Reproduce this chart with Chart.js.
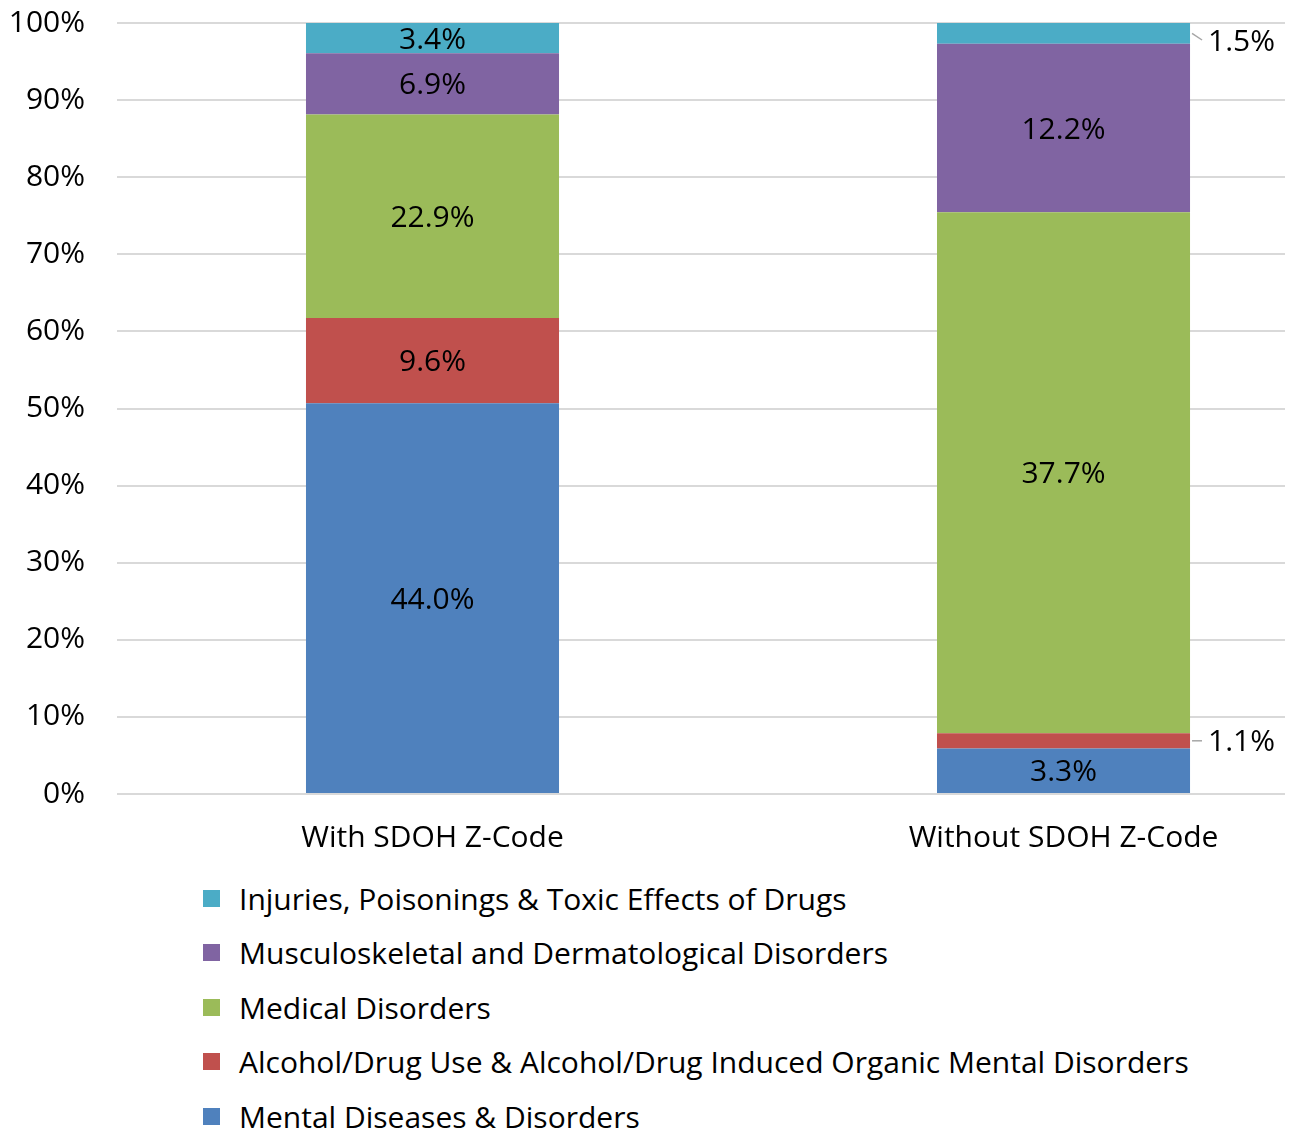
<!DOCTYPE html>
<html>
<head>
<meta charset="utf-8">
<script src="https://cdn.jsdelivr.net/npm/chart.js@4"></script>
<style>
    body { margin: 0; background: #fff; font-family: 'Open Sans', sans-serif; }
    .wrap { position: relative; width: 1293px; height: 1134px; overflow: hidden; }
    .chart-box { position: absolute; left: 0; top: -27px; width: 1293px; height: 887px; }
    .legend { position: absolute; left: 203px; top: 871px; margin: 0; padding: 0; list-style: none; }
    .legend li { height: 54.5px; display: flex; align-items: center; font-size: 30px; color: #000; white-space: nowrap; }
    .legend .swatch { width: 17px; height: 17px; margin-right: 19px; }
</style>
</head>
<body>
<div class="wrap">
    <div class="chart-box"><canvas id="chart"></canvas></div>
    <ul class="legend" id="legend"></ul>
</div>
<script>
// categories and series (raw shares, each bar is scaled to 100%)
const categories = ['With SDOH Z-Code', 'Without SDOH Z-Code'];
const seriesNames = [
    'Mental Diseases & Disorders',
    'Alcohol/Drug Use & Alcohol/Drug Induced Organic Mental Disorders',
    'Medical Disorders',
    'Musculoskeletal and Dermatological Disorders',
    'Injuries, Poisonings & Toxic Effects of Drugs'
];
const mental = [44.0, 3.3];
const alcoholDrug = [9.6, 1.1];
const medical = [22.9, 37.7];
const musculo = [6.9, 12.2];
const injuries = [3.4, 1.5];
const yTicks = [0, 10, 20, 30, 40, 50, 60, 70, 80, 90, 100];

const colors = ['#4F81BD', '#C0504D', '#9BBB59', '#8064A2', '#4BACC6'];
const seriesValues = [mental, alcoholDrug, medical, musculo, injuries];

const totals = categories.map((c, i) => seriesValues.reduce((s, arr) => s + arr[i], 0));

const datasets = seriesValues.map((vals, k) => ({
    label: seriesNames[k],
    data: vals.map((v, i) => ({ x: i, y: v / totals[i] * 100, raw: v })),
    backgroundColor: colors[k],
    borderWidth: 0,
    barPercentage: 0.401,
    categoryPercentage: 1
}));

const FONT = "'Open Sans', sans-serif";

// draw the value labels, small segments get a label outside with a leader line
const valueLabels = {
    id: 'valueLabels',
    afterDatasetsDraw(chart) {
        const ctx = chart.ctx;
        ctx.save();
        ctx.font = '30px ' + FONT;
        ctx.fillStyle = '#000';
        ctx.textBaseline = 'middle';
        chart.data.datasets.forEach((ds, k) => {
            const meta = chart.getDatasetMeta(k);
            meta.data.forEach((bar, i) => {
                const text = ds.data[i].raw.toFixed(1) + '%';
                const h = Math.abs(bar.base - bar.y);
                const cy = (bar.y + bar.base) / 2;
                if (h >= 25) {
                    ctx.textAlign = 'center';
                    ctx.fillText(text, bar.x, cy + 2);
                } else {
                    const right = bar.x + bar.width / 2;
                    const ly = Math.max(cy, chart.chartArea.top + 17);
                    ctx.strokeStyle = '#a6a6a6';
                    ctx.lineWidth = 1.5;
                    ctx.beginPath();
                    ctx.moveTo(right + 2, cy);
                    ctx.lineTo(right + 12, ly);
                    ctx.stroke();
                    ctx.textAlign = 'left';
                    ctx.fillText(text, right + 18, ly + 2);
                }
            });
        });
        ctx.restore();
    }
};

new Chart(document.getElementById('chart'), {
    type: 'bar',
    data: { datasets: datasets },
    plugins: [valueLabels],
    options: {
        responsive: true,
        maintainAspectRatio: false,
        animation: false,
        layout: { padding: { top: 0, right: 8, left: 0, bottom: 0 } },
        plugins: {
            legend: { display: false },
            tooltip: { enabled: false }
        },
        scales: {
            x: {
                type: 'linear',
                stacked: true,
                min: -0.5,
                max: 1.351,
                offset: false,
                grid: { display: false, drawTicks: false },
                border: { display: false },
                afterBuildTicks: function(scale) {
                    scale.ticks = categories.map((c, i) => ({ value: i }));
                },
                afterFit: function(scale) { scale.height = 66; },
                ticks: {
                    padding: 26,
                    color: '#000',
                    font: { family: FONT, size: 30 },
                    maxRotation: 0,
                    callback: function(value) { return categories[value]; }
                }
            },
            y: {
                stacked: true,
                min: 0,
                max: 100,
                afterBuildTicks: function(scale) {
                    scale.ticks = yTicks.map(v => ({ value: v }));
                },
                afterFit: function(scale) { scale.width = 117; },
                grid: { color: '#d9d9d9', lineWidth: 2, drawTicks: false },
                border: { display: false },
                ticks: {
                    padding: 32,
                    color: '#000',
                    font: { family: FONT, size: 30 },
                    callback: function(value) { return value + '%'; }
                }
            }
        }
    }
});

// legend, top to bottom in reverse series order
const legend = document.getElementById('legend');
for (let k = seriesNames.length - 1; k >= 0; k--) {
    const li = document.createElement('li');
    li.innerHTML = '<span class="swatch" style="background:' + colors[k] + '"></span>' + seriesNames[k];
    legend.appendChild(li);
}
</script>
</body>
</html>
